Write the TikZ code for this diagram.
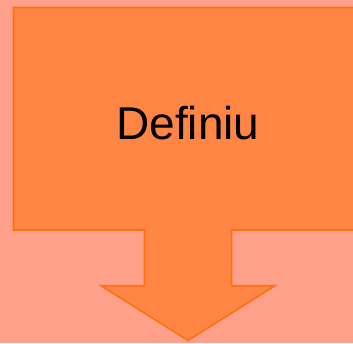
\documentclass[tikz,border=0pt]{standalone}
\usepackage{fontspec}
\setmainfont{Liberation Sans}
\definecolor{bgpink}{RGB}{255,160,138}
\definecolor{calloutfill}{RGB}{255,133,68}
\definecolor{calloutline}{RGB}{255,112,16}
\tikzset{
  callout/.style={fill=calloutfill, draw=calloutline, line width=1.6pt, line join=miter},
  label/.style={font=\fontsize{46}{50}\selectfont, text=black, inner sep=0pt, anchor=base}
}
\begin{document}
\begin{tikzpicture}[x=1pt,y=1pt]
  \useasboundingbox (0,0) rectangle (353,343);
  \clip (0,0) rectangle (353,343);
  \fill[bgpink] (0,0) rectangle (353,343);
  \path[callout] (13.5,335.5) -- (362,335.5) -- (362,113) -- (231.5,113) -- (231.5,57.3)
    -- (275,57.3) -- (188,2.5) -- (101,57.3) -- (144.5,57.3) -- (144.5,113) -- (13.5,113) -- cycle;
  \node[label] (title) at (188,203.7) {Definiu};
\end{tikzpicture}
\end{document}
